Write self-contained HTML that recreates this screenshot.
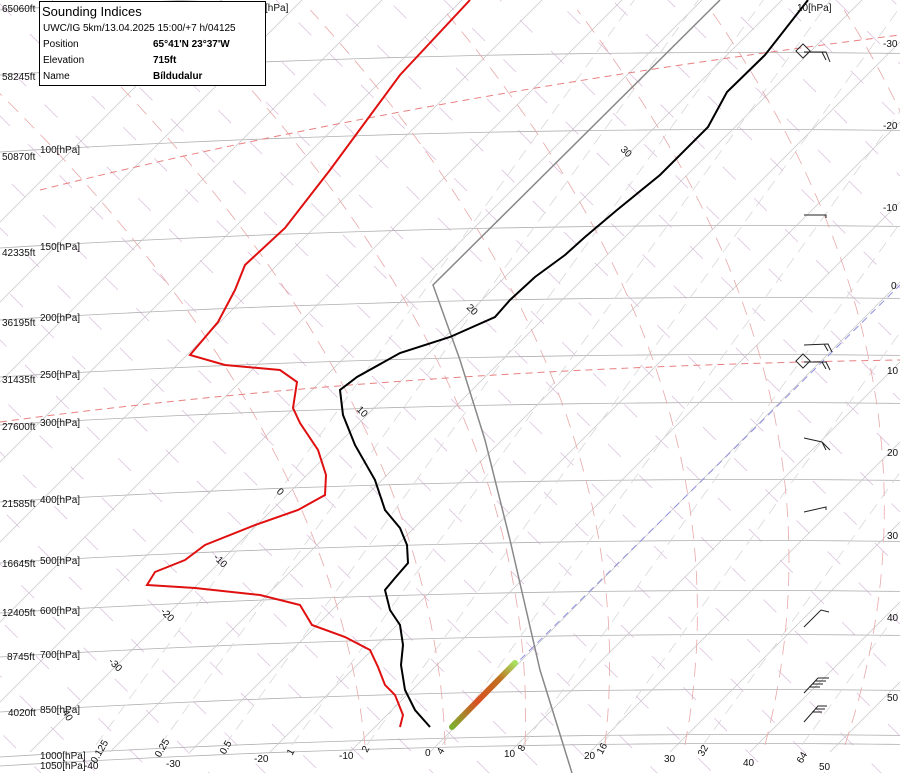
<!DOCTYPE html>
<html><head><meta charset="utf-8"><style>
html,body{margin:0;padding:0;background:#fff;}
svg{display:block;font-family:"Liberation Sans",sans-serif;}
.t{font-size:10px;fill:#111;}
</style></head><body>
<svg id="s" width="900" height="773" viewBox="0 0 900 773" xmlns="http://www.w3.org/2000/svg">
<g id="grid"></g>
<path d="M40,190 Q420,95 900,35" fill="none" stroke="#e88080" stroke-width="1" stroke-dasharray="7,5"/>
<path d="M0,422 Q400,368 900,360" fill="none" stroke="#e88080" stroke-width="1" stroke-dasharray="7,5"/>
<line x1="452" y1="727" x2="900" y2="285" stroke="#9090e0" stroke-width="1" stroke-dasharray="7,5"/>
<polyline points="720,0 433,285 460,360 485,440 510,540 540,670 572,773" fill="none" stroke="#888" stroke-width="1.5"/>
<defs><linearGradient id="g" x1="452" y1="727" x2="515" y2="663" gradientUnits="userSpaceOnUse">
<stop offset="0" stop-color="#7db030"/><stop offset="0.4" stop-color="#d85020"/><stop offset="0.75" stop-color="#c07020"/><stop offset="1" stop-color="#a8e060"/></linearGradient></defs>
<line x1="452" y1="727" x2="515" y2="663" stroke="url(#g)" stroke-width="6" stroke-linecap="round"/>
<polyline points="470,0 400,75 330,170 285,228 245,265 235,290 218,322 190,355 225,365 280,370 297,382 293,408 300,423 318,450 326,475 325,495 298,510 255,525 205,545 185,560 155,572 147,585 195,588 260,595 300,605 312,625 345,637 370,650 378,667 385,685 395,695 403,715 400,727" fill="none" stroke="#e01010" stroke-width="2"/>
<polyline points="808,0 765,55 727,92 708,127 660,175 617,210 585,237 565,255 535,277 510,300 495,317 450,337 400,353 357,377 340,390 343,415 355,445 375,480 385,510 400,528 407,545 408,563 395,578 385,590 390,610 400,625 403,645 401,665 405,690 415,710 430,727" fill="none" stroke="#000" stroke-width="2"/>
<g stroke="#222" stroke-width="1" fill="none">
<path d="M804,52 L826,52 L830,62 M822,52 L826,60"/><rect x="798" y="46" width="10" height="10" transform="rotate(45 803 51)"/>
<path d="M804,215 L826,215 L826,218"/>
<path d="M804,345 L828,344 L832,352 M824,344 L828,351"/>
<path d="M804,362 L826,362 L830,370 M822,362 L826,369"/><rect x="798" y="356" width="10" height="10" transform="rotate(45 803 361)"/>
<path d="M804,438 L822,442 L830,450 M822,442 L826,450"/>
<path d="M804,512 L826,507 L826,510"/>
<path d="M804,627 L821,610 L829,612"/>
<path d="M804,693 L818,678 L829,678 M815,681 L826,681 M812,684 L823,684 M809,687 L820,687"/>
<path d="M804,722 L818,706 L827,706 M815,709 L825,709 M812,712 L822,712"/>
</g>
<g class="t">
<text x="2" y="12">65060ft</text><text x="2" y="80">58245ft</text><text x="2" y="160">50870ft</text>
<text x="2" y="256">42335ft</text><text x="2" y="326">36195ft</text><text x="2" y="383">31435ft</text>
<text x="2" y="430">27600ft</text><text x="2" y="507">21585ft</text><text x="2" y="567">16645ft</text>
<text x="2" y="616">12405ft</text><text x="7" y="660">8745ft</text><text x="8" y="716">4020ft</text>
<text x="40" y="153">100[hPa]</text><text x="40" y="250">150[hPa]</text><text x="40" y="321">200[hPa]</text>
<text x="40" y="378">250[hPa]</text><text x="40" y="426">300[hPa]</text><text x="40" y="503">400[hPa]</text>
<text x="40" y="564">500[hPa]</text><text x="40" y="614">600[hPa]</text><text x="40" y="658">700[hPa]</text>
<text x="40" y="713">850[hPa]</text><text x="40" y="759">1000[hPa]</text><text x="40" y="769">1050[hPa]</text>
<text x="797" y="11">10[hPa]</text><text x="265" y="11">[hPa]</text>
<text x="883" y="47">-30</text><text x="883" y="129">-20</text><text x="883" y="211">-10</text>
<text x="891" y="289">0</text><text x="887" y="374">10</text><text x="887" y="456">20</text>
<text x="887" y="539">30</text><text x="887" y="621">40</text><text x="887" y="701">50</text>
<text x="84" y="769">-40</text><text x="166" y="767">-30</text><text x="254" y="762">-20</text>
<text x="339" y="759">-10</text><text x="425" y="756">0</text><text x="504" y="757">10</text>
<text x="584" y="759">20</text><text x="664" y="762">30</text><text x="743" y="766">40</text><text x="819" y="770">50</text>
<text transform="translate(96,764) rotate(-60)">0.125</text>
<text transform="translate(160,758) rotate(-60)">0.25</text>
<text transform="translate(225,755) rotate(-60)">0.5</text>
<text transform="translate(292,756) rotate(-60)">1</text>
<text transform="translate(367,753) rotate(-60)">2</text>
<text transform="translate(442,755) rotate(-60)">4</text>
<text transform="translate(523,752) rotate(-60)">8</text>
<text transform="translate(602,755) rotate(-60)">16</text>
<text transform="translate(703,757) rotate(-60)">32</text>
<text transform="translate(802,764) rotate(-60)">64</text>
<text transform="translate(62,712) rotate(60)">40</text>
<text transform="translate(108,662) rotate(45)">-30</text>
<text transform="translate(160,612) rotate(45)">-20</text>
<text transform="translate(213,558) rotate(45)">-10</text>
<text transform="translate(276,492) rotate(45)">0</text>
<text transform="translate(356,410) rotate(45)">10</text>
<text transform="translate(466,308) rotate(45)">20</text>
<text transform="translate(620,150) rotate(45)">30</text>
</g>
<rect x="39.5" y="1.5" width="226" height="84" fill="#fff" stroke="#000"/>
<text x="42" y="16" style="font-size:13px" fill="#000">Sounding Indices</text>
<g style="font-size:10px" fill="#000">
<text x="43" y="31">UWC/IG 5km/13.04.2025 15:00/+7 h/04125</text>
<text x="43" y="47">Position</text><text x="153" y="47" font-weight="bold">65°41'N 23°37'W</text>
<text x="43" y="63">Elevation</text><text x="153" y="63" font-weight="bold">715ft</text>
<text x="43" y="79">Name</text><text x="153" y="79" font-weight="bold">Bíldudalur</text>
</g>
</svg>
<script>
(function(){
var g=document.getElementById('grid'),h='';
function iso(y0,x){return y0-0.06*x+0.00004*x*x;}
var ys=[10,75,152,248,320,377,425,502,563,613,657,712,757,766];
for(var c=-900;c<950;c+=56){h+='<line x1="'+c+'" y1="0" x2="'+(c+800)+'" y2="800" stroke="#dbb8db" stroke-width="0.7" stroke-dasharray="18,26" stroke-dashoffset="'+(((c%44)+44)%44)+'"/>';}
ys.forEach(function(y0){var p='';for(var x=0;x<=900;x+=30)p+=(x?' L':'M')+x+','+iso(y0,x).toFixed(1);
h+='<path d="'+p+'" fill="none" stroke="#b0b0b0" stroke-width="0.8"/>';});
for(var T=-120;T<=60;T+=10){var xb=430+8*T;h+='<line x1="'+xb+'" y1="752" x2="'+(xb+800)+'" y2="-48" stroke="#c4c4c4" stroke-width="0.7"/>';}
var mx=[96,160,225,292,367,442,523,602,703,802];
mx.forEach(function(x){h+='<line x1="'+x+'" y1="745" x2="'+(x+560)+'" y2="-30" stroke="#d8d8d8" stroke-width="0.8" stroke-dasharray="12,7"/>';});
for(var xb=365;xb<=1000;xb+=80){var s=(xb-480)/1100,p='';for(var y=745;y>=0;y-=15){var d=745-y;p+=(y==745?'M':' L')+(xb+s*d-0.0007*d*d).toFixed(1)+','+y;}
h+='<path d="'+p+'" fill="none" stroke="#e8a8a8" stroke-width="0.8" stroke-dasharray="14,9"/>';}
g.innerHTML=h;
})();
</script>
</body></html>
